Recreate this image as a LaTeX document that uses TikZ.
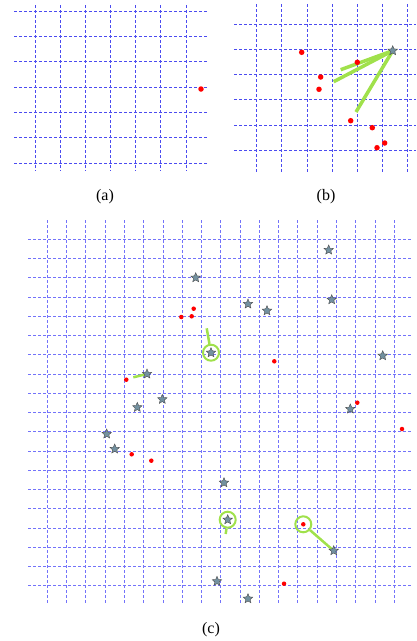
\documentclass[tikz,border=0pt]{standalone}
\usepackage{fontspec}
\setmainfont{Liberation Serif}
\usetikzlibrary{shapes.geometric, backgrounds}

\definecolor{gridblue}{RGB}{75,75,240}
\definecolor{gridpale}{RGB}{115,115,250}
\definecolor{linkgreen}{RGB}{160,225,75}
\definecolor{starfill}{RGB}{115,145,160}

\begin{document}
\begin{tikzpicture}[
        x=1pt, y=-1pt,
        gridline/.style={draw=gridblue, line width=0.9pt, dash pattern=on 3pt off 2pt},
        paleline/.style={draw=gridpale, line width=0.9pt, dash pattern=on 3pt off 2pt},
        sample/.style={circle, fill=red, inner sep=0pt, minimum size=5.5pt},
        smallsample/.style={circle, fill=red, inner sep=0pt, minimum size=4.5pt},
        anchorstar/.style={star, star points=5, star point ratio=2.2, draw=black!70, fill=starfill, line width=0.4pt, inner sep=0pt, minimum size=10pt},
        ring/.style={circle, draw=linkgreen, line width=2pt, inner sep=0pt, minimum size=16pt},
        link/.style={draw=linkgreen, line width=3.5pt},
        thinlink/.style={draw=linkgreen, line width=2.5pt},
        caption/.style={font=\fontsize{16}{18}\selectfont}
    ]
        \useasboundingbox (0,0) rectangle (417,641);

        % Grids
        \begin{pgfonlayer}{background}
            \foreach \i in {0,...,6} \draw[gridline] (35+25.17*\i,5) -- (35+25.17*\i,171);
            \foreach \j in {0,...,6} \draw[gridline] (14,11+25.33*\j) -- (207,11+25.33*\j);
            \foreach \i in {0,...,6} \draw[gridline] (256.7+25.17*\i,4) -- (256.7+25.17*\i,172);
            \foreach \j in {0,...,5} \draw[gridline] (234,24.3+25.2*\j) -- (416,24.3+25.2*\j);
            \foreach \i in {0,...,18} \draw[paleline] (47.3+19.28*\i,220) -- (47.3+19.28*\i,603);
            \foreach \j in {0,...,18} \draw[paleline] (28,239.3+19.25*\j) -- (412,239.3+19.25*\j);
        \end{pgfonlayer}

        % Panel (a)
        \node[sample] (a1) at (201,89) {};
        \node[caption] (capa) at (105,197) {(a)};

        % Panel (b)
        \node[sample] (b1) at (301.7,52.3) {};
        \node[sample] (b2) at (320.7,77) {};
        \node[sample] (b3) at (319,89.3) {};
        \node[sample] (b4) at (357.3,62.3) {};
        \node[sample] (b5) at (350.7,120.7) {};
        \node[sample] (b6) at (372.3,127.7) {};
        \node[sample] (b7) at (384.7,143) {};
        \node[sample] (b8) at (377,147.7) {};
        \node[anchorstar] (bs) at (392.7,50.7) {};
        \coordinate (be1) at (340.7,69.7);
        \coordinate (be2) at (333.7,81.7);
        \coordinate (be3) at (356,112);
        \node[caption] (capb) at (326,197) {(b)};

        % Panel (c): anchors
        \node[anchorstar] (c1) at (195.7,277.7) {};
        \node[anchorstar] (c2) at (147,374) {};
        \node[anchorstar] (c3) at (162.3,399.3) {};
        \node[anchorstar] (c4) at (137.3,407.3) {};
        \node[anchorstar] (c5) at (211,352.7) {};
        \node[anchorstar] (c6) at (328.7,250) {};
        \node[anchorstar] (c7) at (248,304) {};
        \node[anchorstar] (c8) at (267,310.7) {};
        \node[anchorstar] (c9) at (331.7,299.7) {};
        \node[anchorstar] (c10) at (382.7,355.7) {};
        \node[anchorstar] (c11) at (350.3,409) {};
        \node[anchorstar] (c12) at (106.7,434) {};
        \node[anchorstar] (c13) at (114.7,449) {};
        \node[anchorstar] (c14) at (224,482.7) {};
        \node[anchorstar] (c15) at (227.7,519.7) {};
        \node[anchorstar] (c16) at (333.7,550.7) {};
        \node[anchorstar] (c17) at (217,581.3) {};
        \node[anchorstar] (c18) at (248,598.7) {};

        % Panel (c): samples
        \node[smallsample] (d1) at (193.7,308.7) {};
        \node[smallsample] (d2) at (181.3,317) {};
        \node[smallsample] (d3) at (191.7,316.3) {};
        \node[smallsample] (d4) at (126.3,379.7) {};
        \node[smallsample] (d5) at (274.3,361.3) {};
        \node[smallsample] (d6) at (357.3,402.7) {};
        \node[smallsample] (d7) at (402,429) {};
        \node[smallsample] (d8) at (131.7,454.3) {};
        \node[smallsample] (d9) at (151.3,460.7) {};
        \node[smallsample] (d10) at (303.3,524.3) {};
        \node[smallsample] (d11) at (284,583.7) {};

        % Panel (c): rings
        \node[ring] (r5) at (c5) {};
        \node[ring] (r15) at (c15) {};
        \node[ring] (r10) at (d10) {};
        \coordinate (ce2) at (133.3,377.3);
        \coordinate (ce5) at (206.7,328.3);
        \coordinate (ce15) at (225.7,534);
        \node[caption] (capc) at (211,630) {(c)};

        % Green links
        \begin{pgfonlayer}{background}
            \draw[link] (bs.center) -- (be1);
            \draw[link] (bs.center) -- (be2);
            \draw[link] (bs.center) -- (be3);
            \draw[thinlink] (c2.center) -- (ce2);
            \draw[thinlink] (r5) -- (ce5);
            \draw[thinlink] (r15) -- (ce15);
            \draw[thinlink] (r10) -- (c16.center);
        \end{pgfonlayer}
    \end{tikzpicture}
\end{document}
